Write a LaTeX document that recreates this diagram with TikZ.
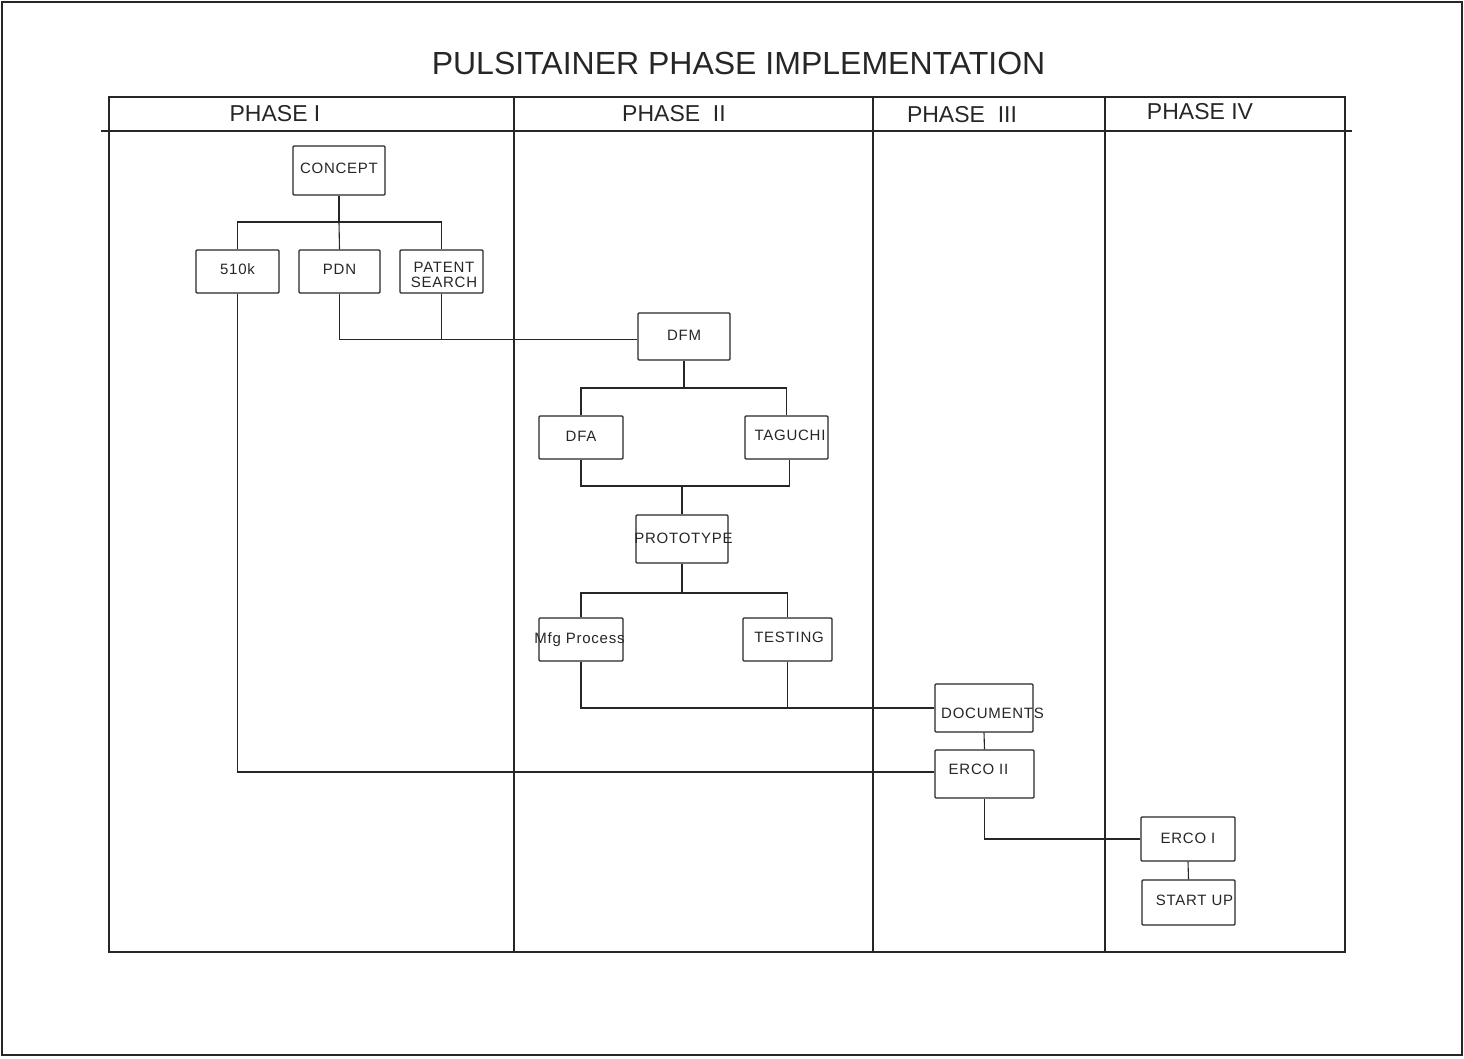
\documentclass[tikz,border=0pt]{standalone}
\usepackage{fontspec}
\setmainfont{Liberation Sans}
% box label: zero-size, shifted right by half of #1, baseline lowered/raised by #2
\newcommand{\stagelabel}[3]{\makebox[0pt]{\hspace*{#1}\raisebox{#2}[0pt][0pt]{#3}}}
\begin{document}
\begin{tikzpicture}[x=1pt,y=-1pt,
  ink/.style={color=black!85},
  frame/.style={ink, line width=1.2pt},
  wire/.style={ink, line width=1.1pt},
  stage/.style={ink, draw, line width=1.2pt, rounded corners=1pt, inner sep=0pt,
    font=\fontsize{15}{15}\selectfont\addfontfeature{LetterSpace=5}},
  phasehead/.style={ink, inner sep=0pt, font=\fontsize{23}{23}\selectfont},
  heading/.style={ink, inner sep=0pt, font=\fontsize{32}{32}\selectfont}
]
% page and outer frame
\useasboundingbox (0,0) rectangle (1464,1058);
\draw[frame] (2,2) rectangle (1462,1055);

% title
\node[heading] (title) at (738.5,63.5) {PULSITAINER PHASE IMPLEMENTATION};

% phase table
\draw[frame] (109,97) rectangle (1345,952);
\draw[frame] (101,131) -- (1352,131);
\draw[frame] (514,97) -- (514,952);
\draw[frame] (873,97) -- (873,952);
\draw[frame] (1105,97) -- (1105,952);
\node[phasehead] (ph1) at (275,114) {PHASE I};
\node[phasehead] (ph2) at (674,114) {PHASE\ \ II};
\node[phasehead] (ph3) at (962,115) {PHASE\ \ III};
\node[phasehead] (ph4) at (1200,112) {PHASE IV};

% stage boxes (labels are zero-size so they may run past the box edge)
\node[stage, minimum width=92pt, minimum height=49pt] (concept) at (339,170.5) {\stagelabel{0pt}{-2.85pt}{CONCEPT}};
\node[stage, minimum width=83pt, minimum height=43pt] (k510) at (237.5,271.5) {\stagelabel{0pt}{-2.85pt}{510k}};
\node[stage, minimum width=81pt, minimum height=43pt] (pdn) at (339.5,271.5) {\stagelabel{0pt}{-2.85pt}{PDN}};
\node[stage, minimum width=83pt, minimum height=43pt] (patent) at (441.5,271.5)
  {\stagelabel{5pt}{-16.4pt}{\begin{tabular}[b]{@{}c@{}}PATENT\\SEARCH\end{tabular}}};
\node[stage, minimum width=92pt, minimum height=47pt] (dfm) at (684,336.5) {\stagelabel{0pt}{-3.85pt}{DFM}};
\node[stage, minimum width=84pt, minimum height=43pt] (dfa) at (581,437.5) {\stagelabel{0pt}{-3.85pt}{DFA}};
\node[stage, minimum width=83pt, minimum height=43pt] (taguchi) at (786.5,437.5) {\stagelabel{7pt}{-2.85pt}{TAGUCHI}};
\node[stage, minimum width=92pt, minimum height=48pt] (proto) at (682,539) {\stagelabel{3pt}{-4.35pt}{PROTOTYPE}};
\node[stage, minimum width=84pt, minimum height=43pt] (mfg) at (581,639.5) {\stagelabel{-3pt}{-3.85pt}{Mfg Process}};
\node[stage, minimum width=89pt, minimum height=43pt] (testing) at (787.5,639.5) {\stagelabel{3pt}{-2.85pt}{TESTING}};
\node[stage, minimum width=98pt, minimum height=48pt] (docs) at (984,708) {\stagelabel{17pt}{-10.85pt}{DOCUMENTS}};
\node[stage, minimum width=99pt, minimum height=48pt] (erco2) at (984.5,774) {\stagelabel{-12pt}{-0.85pt}{ERCO II}};
\node[stage, minimum width=94pt, minimum height=44pt] (erco1) at (1188,839) {\stagelabel{0pt}{-4.35pt}{ERCO I}};
\node[stage, minimum width=93pt, minimum height=45pt] (startup) at (1188.5,902.5) {\stagelabel{12pt}{-2.85pt}{START UP}};

% branch points and entry points
\coordinate (busA) at (339,222);
\coordinate (busB) at (684,388);
\coordinate (busC) at (682,486);
\coordinate (busD) at (682,593);
\coordinate (dfmIn) at ([yshift=-3pt]dfm.west);
\coordinate (ercoIn) at ([yshift=2pt]erco2.west);
\coordinate (tagOut) at ([xshift=3pt]taguchi.south);

% connectors
\draw[wire] (concept.south) -- (busA);
\draw[wire] (k510.north) |- (busA) -| (patent.north);
\draw[wire] (busA) -- (pdn.north);
\draw[wire] (pdn.south) |- (dfmIn);
\draw[wire] (patent.south) -- (patent.south |- dfmIn);
\draw[wire] (dfm.south) -- (busB);
\draw[wire] (dfa.north) |- (busB) -| (taguchi.north);
\draw[wire] (dfa.south) |- (busC) -| (tagOut);
\draw[wire] (busC) -- (proto.north);
\draw[wire] (proto.south) -- (busD);
\draw[wire] (mfg.north) |- (busD) -| (testing.north);
\draw[wire] (mfg.south) |- (docs.west);
\draw[wire] (testing.south) -- (testing.south |- docs.west);
\draw[wire] (docs.south) -- (erco2.north);
\draw[wire] (k510.south) |- (ercoIn);
\draw[wire] (erco2.south) |- (erco1.west);
\draw[wire] (erco1.south) -- (startup.north);
\end{tikzpicture}
\end{document}
